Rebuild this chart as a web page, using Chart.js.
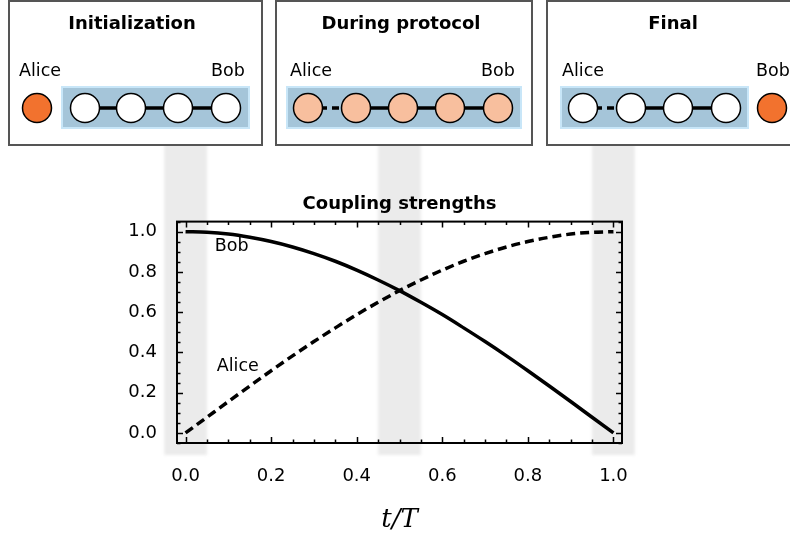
<!DOCTYPE html>
<html>
<head>
<meta charset="utf-8">
<script src="https://cdn.jsdelivr.net/npm/chart.js@4"></script>
<style>
  html, body { margin: 0; padding: 0; background: #fff; }
  canvas { display: block; }
</style>
</head>
<body>
<canvas id="chart" width="790" height="537"></canvas>
<script>
// Coupling strengths of Alice / Bob over the protocol time t/T

const tValues = [0.0, 0.05, 0.1, 0.15, 0.2, 0.25, 0.3, 0.35, 0.4, 0.45, 0.5,
  0.55, 0.6, 0.65, 0.7, 0.75, 0.8, 0.85, 0.9, 0.95, 1.0];
const bobValues = [1.0, 0.997, 0.988, 0.972, 0.951, 0.924, 0.891, 0.853, 0.809, 0.76, 0.707,
  0.649, 0.588, 0.522, 0.454, 0.383, 0.309, 0.233, 0.156, 0.078, 0.0];
const aliceValues = [0.0, 0.078, 0.156, 0.233, 0.309, 0.383, 0.454, 0.522, 0.588, 0.649, 0.707,
  0.76, 0.809, 0.853, 0.891, 0.924, 0.951, 0.972, 0.988, 0.997, 1.0];
const xTicks = [0.0, 0.2, 0.4, 0.6, 0.8, 1.0];
const yTicks = [0.0, 0.2, 0.4, 0.6, 0.8, 1.0];
const bandCenters = [0.0, 0.5, 1.0];   // snapshot times shown in the panels
const panelTitles = ["Initialization", "During protocol", "Final"];

// drawing layout for the three snapshot panels (pixels)
const panelLayout = [
  { x: 9, w: 253, tx: 132, lx: 40, rx: 228, rect: [62, 249], nodes: [85, 131, 178, 226],
    fill: "#ffffff", dashFirst: false, orange: 37 },
  { x: 276, w: 256, tx: 401, lx: 311, rx: 498, rect: [287, 521], nodes: [308, 356, 403, 450, 498],
    fill: "#f8bf9e", dashFirst: true, orange: null },
  { x: 547, w: 260, tx: 673, lx: 583, rx: 773, rect: [561, 748], nodes: [583, 631, 678, 726],
    fill: "#ffffff", dashFirst: true, orange: 772 },
];

const FONT = "'DejaVu Sans', 'Noto Sans', sans-serif";

function drawPanel(ctx, p, title) {
  ctx.save();
  ctx.fillStyle = "#fff";
  ctx.fillRect(p.x, 1, p.w, 144);
  ctx.strokeStyle = "#555";
  ctx.lineWidth = 2;
  ctx.strokeRect(p.x, 1, p.w, 144);

  ctx.fillStyle = "#000";
  ctx.textAlign = "center";
  ctx.textBaseline = "alphabetic";
  ctx.font = "bold 18px " + FONT;
  ctx.fillText(title, p.tx, 29);
  ctx.font = "17.5px " + FONT;
  ctx.fillText("Alice", p.lx, 76);
  ctx.fillText("Bob", p.rx, 76);

  // chain box
  ctx.fillStyle = "#a5c5d9";
  ctx.fillRect(p.rect[0], 87, p.rect[1] - p.rect[0], 41);
  ctx.strokeStyle = "#c8e6f8";
  ctx.lineWidth = 2;
  ctx.strokeRect(p.rect[0], 87, p.rect[1] - p.rect[0], 41);

  // links
  ctx.strokeStyle = "#000";
  ctx.lineWidth = 3.5;
  for (let i = 0; i < p.nodes.length - 1; i++) {
    ctx.setLineDash(i === 0 && p.dashFirst ? [7, 5] : []);
    ctx.beginPath();
    ctx.moveTo(p.nodes[i], 108);
    ctx.lineTo(p.nodes[i + 1], 108);
    ctx.stroke();
  }
  ctx.setLineDash([]);

  ctx.lineWidth = 1.5;
  const circle = (x, fill) => {
    ctx.beginPath();
    ctx.arc(x, 108, 14.5, 0, Math.PI * 2);
    ctx.fillStyle = fill;
    ctx.fill();
    ctx.stroke();
  };
  p.nodes.forEach((x) => circle(x, p.fill));
  if (p.orange !== null) circle(p.orange, "#f2722e");
  ctx.restore();
}

const scenePlugin = {
  id: "scene",
  beforeDraw(chart) {
    const ctx = chart.ctx;
    const xs = chart.scales.x;
    const area = chart.chartArea;
    ctx.save();
    ctx.fillStyle = "#fff";
    ctx.fillRect(0, 0, chart.width, chart.height);
    ctx.filter = "blur(1.5px)";
    ctx.fillStyle = "#ebebeb";
    bandCenters.forEach((c) => {
      const l = xs.getPixelForValue(c - 0.05);
      const r = xs.getPixelForValue(c + 0.05);
      ctx.fillRect(l, 140, r - l, area.bottom + 12 - 140);
    });
    ctx.restore();
  },
  afterDatasetsDraw(chart) {
    const ctx = chart.ctx;
    const xs = chart.scales.x, ys = chart.scales.y;
    ctx.save();
    ctx.fillStyle = "#000";
    ctx.font = "17.5px " + FONT;
    ctx.textAlign = "center";
    ctx.textBaseline = "middle";
    ctx.fillText("Bob", xs.getPixelForValue(0.108), ys.getPixelForValue(0.925));
    ctx.fillText("Alice", xs.getPixelForValue(0.122), ys.getPixelForValue(0.328));
    ctx.restore();
  },
  afterDraw(chart) {
    const ctx = chart.ctx;
    const a = chart.chartArea;
    const xs = chart.scales.x, ys = chart.scales.y;
    ctx.save();
    ctx.strokeStyle = "#000";
    ctx.lineWidth = 1.5;
    // inward ticks on all four sides
    for (let i = 0; i <= 20; i++) {
      const v = i * 0.05;
      const len = i % 4 === 0 ? 6 : 3.5;
      const px = Math.round(xs.getPixelForValue(v)) + 0.5;
      ctx.beginPath();
      ctx.moveTo(px, a.bottom); ctx.lineTo(px, a.bottom - len);
      ctx.moveTo(px, a.top); ctx.lineTo(px, a.top + len);
      ctx.stroke();
    }
    for (let i = -1; i <= 21; i++) {
      const v = i * 0.05;
      const len = i % 4 === 0 ? 6 : 3.5;
      const py = Math.round(ys.getPixelForValue(v)) + 0.5;
      ctx.beginPath();
      ctx.moveTo(a.left, py); ctx.lineTo(a.left + len, py);
      ctx.moveTo(a.right, py); ctx.lineTo(a.right - len, py);
      ctx.stroke();
    }
    ctx.lineWidth = 2;
    ctx.strokeRect(a.left, a.top, a.right - a.left, a.bottom - a.top);
    ctx.restore();

    panelLayout.forEach((p, i) => drawPanel(ctx, p, panelTitles[i]));
  },
};

const tickFont = { family: FONT, size: 18 };

new Chart(document.getElementById("chart"), {
  type: "line",
  data: {
    datasets: [
      {
        label: "Bob",
        data: tValues.map((t, i) => ({ x: t, y: bobValues[i] })),
        borderColor: "#000",
        borderWidth: 3.5,
        pointRadius: 0,
        cubicInterpolationMode: "monotone",
        fill: false,
      },
      {
        label: "Alice",
        data: tValues.map((t, i) => ({ x: t, y: aliceValues[i] })),
        borderColor: "#000",
        borderWidth: 3.5,
        borderDash: [9, 5],
        pointRadius: 0,
        cubicInterpolationMode: "monotone",
        fill: false,
      },
    ],
  },
  options: {
    responsive: false,
    animation: false,
    devicePixelRatio: 1,
    layout: { padding: { left: 0, right: 168, top: 194, bottom: 0 } },
    plugins: {
      legend: { display: false },
      tooltip: { enabled: false },
      title: {
        display: true,
        text: "Coupling strengths",
        color: "#000",
        fullSize: false,
        font: { family: FONT, size: 18, weight: "bold" },
        padding: { top: 0, bottom: 6 },
      },
    },
    scales: {
      x: {
        type: "linear",
        min: -0.02,
        max: 1.02,
        afterBuildTicks: (s) => { s.ticks = xTicks.map((v) => ({ value: v })); },
        afterFit: (s) => { s.height = 94; },
        grid: { display: false, drawTicks: false },
        border: { display: false },
        ticks: {
          color: "#000",
          font: tickFont,
          padding: 23,
          maxRotation: 0,
          autoSkip: false,
          callback: (v) => Number(v).toFixed(1),
        },
        title: {
          display: true,
          text: "t/T",
          color: "#000",
          font: { family: "'DejaVu Serif', serif", size: 26, style: "italic" },
          padding: { top: 0, bottom: 1 },
        },
      },
      y: {
        min: -0.05,
        max: 1.05,
        afterBuildTicks: (s) => { s.ticks = yTicks.map((v) => ({ value: v })); },
        afterFit: (s) => { s.width = 177; },
        grid: { display: false, drawTicks: false },
        border: { display: false },
        ticks: {
          color: "#000",
          font: tickFont,
          padding: 20,
          autoSkip: false,
          callback: (v) => Number(v).toFixed(1),
        },
      },
    },
  },
  plugins: [scenePlugin],
});
</script>
</body>
</html>
